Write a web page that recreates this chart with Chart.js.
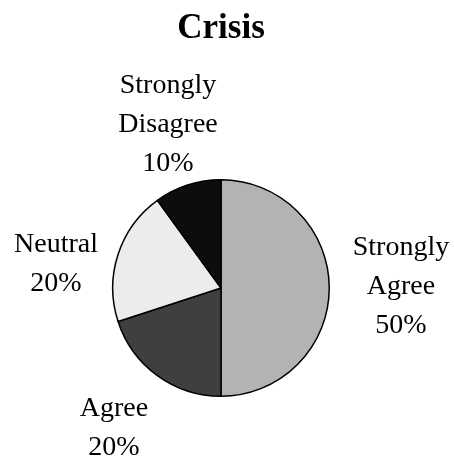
<!DOCTYPE html>
<html>
<head>
<meta charset="utf-8">
<script src="https://cdn.jsdelivr.net/npm/chart.js@4"></script>
<style>
  html, body { margin: 0; padding: 0; background: #ffffff; }
  #wrap { width: 454px; height: 459px; }
</style>
</head>
<body>
<div id="wrap"><canvas id="c" width="454" height="459"></canvas></div>
<script>
// Survey responses for the "Crisis" item
const categories = ['Strongly Agree', 'Agree', 'Neutral', 'Strongly Disagree'];
const labelLines = [['Strongly', 'Agree'], ['Agree'], ['Neutral'], ['Strongly', 'Disagree']];
const shares = [50, 20, 20, 10];
const sliceColors = ['#b3b3b3', '#3f3f3f', '#ececec', '#0d0d0d'];

// Outside labels: name lines plus the percentage, offset from the pie centre
const outsideLabels = {
  id: 'outsideLabels',
  afterDatasetsDraw(chart, args, opts) {
    const ctx = chart.ctx;
    const meta = chart.getDatasetMeta(0);
    const values = chart.data.datasets[0].data;
    const total = values.reduce((a, b) => a + b, 0);
    ctx.save();
    ctx.fillStyle = '#000';
    ctx.font = opts.font;
    ctx.textAlign = 'center';
    ctx.textBaseline = 'middle';
    meta.data.forEach((arc, i) => {
      const lines = labelLines[i].concat([Math.round(values[i] / total * 100) + '%']);
      const off = opts.offsets[i];
      const cx = arc.x + off[0];
      const cy = arc.y + off[1];
      const h = opts.lineHeight;
      lines.forEach((t, k) => {
        ctx.fillText(t, cx, cy + (k - (lines.length - 1) / 2) * h);
      });
    });
    ctx.restore();
  }
};

new Chart(document.getElementById('c'), {
  type: 'pie',
  data: {
    labels: categories,
    datasets: [{
      data: shares,
      backgroundColor: sliceColors,
      borderColor: '#000000',
      borderWidth: 1.5
    }]
  },
  options: {
    responsive: false,
    animation: false,
    layout: { padding: { left: 112, right: 124, top: 0, bottom: 62 } },
    plugins: {
      legend: { display: false },
      tooltip: { enabled: false },
      title: {
        display: true,
        text: 'Crisis',
        color: '#000',
        font: { family: "'Liberation Serif', 'Times New Roman', serif", size: 35, weight: 'bold' },
        padding: { top: 8, bottom: 129 }
      },
      outsideLabels: {
        font: "28px 'Liberation Serif', 'Times New Roman', serif",
        lineHeight: 39,
        offsets: [[180, -1], [-107, 140], [-165, -24], [-53, -163]]
      }
    }
  },
  plugins: [outsideLabels]
});
</script>
</body>
</html>
